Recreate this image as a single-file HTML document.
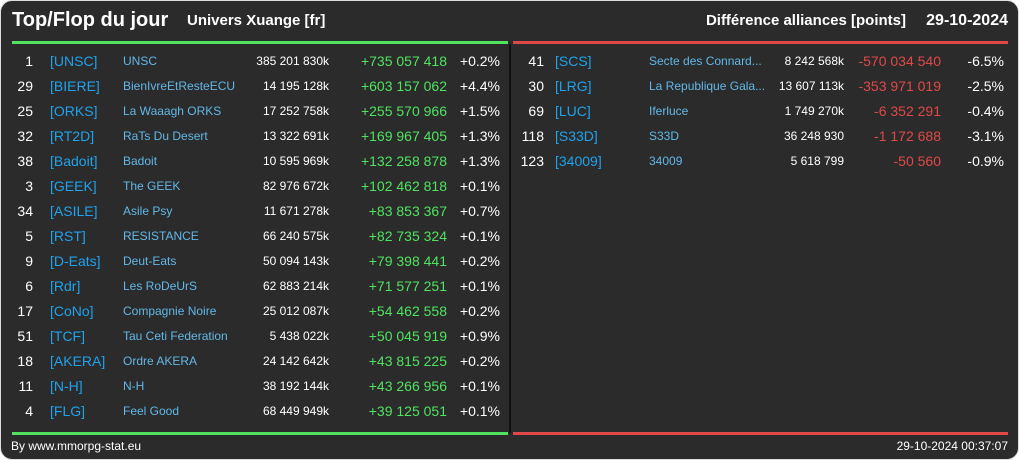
<!DOCTYPE html>
<html><head><meta charset="utf-8"><style>
body{margin:0;width:1019px;height:460px;background:#fff;overflow:hidden;font-family:"Liberation Sans",sans-serif}
#card{position:absolute;left:0;top:0;width:1017px;height:458px;background:#2b2b2b;border:1px solid #ddd;border-radius:12px 12px 12px 12px}
.t{position:absolute;white-space:nowrap;line-height:1}
</style></head><body>
<div id="card">
<div class="t" style="left:11px;top:9px;font-size:20px;font-weight:bold;color:#fff">Top/Flop du jour</div>
<div class="t" style="left:186px;top:12px;font-size:15px;font-weight:bold;color:#fff">Univers Xuange [fr]</div>
<div class="t" style="right:112px;top:12px;font-size:15px;font-weight:bold;color:#fff">Différence alliances [points]</div>
<div class="t" style="right:10px;top:12px;font-size:16px;font-weight:bold;color:#fff">29-10-2024</div>
<div style="position:absolute;left:11px;top:40px;width:496px;height:3px;background:#4fe35f"></div>
<div style="position:absolute;left:512px;top:40px;width:495px;height:3px;background:#e04848"></div>
<div style="position:absolute;left:508px;top:43px;width:2px;height:389px;background:#111"></div>
<div style="position:absolute;left:11px;top:431px;width:496px;height:3px;background:#4fe35f"></div>
<div style="position:absolute;left:512px;top:431px;width:495px;height:3px;background:#e04848"></div>
<div class="t" style="left:10px;top:439px;font-size:12px;color:#fff">By www.mmorpg-stat.eu</div>
<div class="t" style="right:10px;top:439px;font-size:12px;color:#fff">29-10-2024 00:37:07</div>
</div>
<script>
const topRanks=[1,29,25,32,38,3,34,5,9,6,17,51,18,11,4];
const topTags=["[UNSC]","[BIERE]","[ORKS]","[RT2D]","[Badoit]","[GEEK]","[ASILE]","[RST]","[D-Eats]","[Rdr]","[CoNo]","[TCF]","[AKERA]","[N-H]","[FLG]"];
const topNames=["UNSC","BienIvreEtResteECU","La Waaagh ORKS","RaTs Du Desert","Badoit","The GEEK","Asile Psy","RESISTANCE","Deut-Eats","Les RoDeUrS","Compagnie Noire","Tau Ceti Federation","Ordre AKERA","N-H","Feel Good"];
const topPoints=["385 201 830k","14 195 128k","17 252 758k","13 322 691k","10 595 969k","82 976 672k","11 671 278k","66 240 575k","50 094 143k","62 883 214k","25 012 087k","5 438 022k","24 142 642k","38 192 144k","68 449 949k"];
const topDiffs=["+735 057 418","+603 157 062","+255 570 966","+169 967 405","+132 258 878","+102 462 818","+83 853 367","+82 735 324","+79 398 441","+71 577 251","+54 462 558","+50 045 919","+43 815 225","+43 266 956","+39 125 051"];
const topPcts=["+0.2%","+4.4%","+1.5%","+1.3%","+1.3%","+0.1%","+0.7%","+0.1%","+0.2%","+0.1%","+0.2%","+0.9%","+0.2%","+0.1%","+0.1%"];
const flopRanks=[41,30,69,118,123];
const flopTags=["[SCS]","[LRG]","[LUC]","[S33D]","[34009]"];
const flopNames=["Secte des Connard...","La Republique Gala...","Iferluce","S33D","34009"];
const flopPoints=["8 242 568k","13 607 113k","1 749 270k","36 248 930","5 618 799"];
const flopDiffs=["-570 034 540","-353 971 019","-6 352 291","-1 172 688","-50 560"];
const flopPcts=["-6.5%","-2.5%","-0.4%","-3.1%","-0.9%"];
const card=document.getElementById('card');
function txt(x,y,s,size,color,right,name,inter){
  const d=document.createElement('div');
  d.className='t';
  d.textContent=s;
  d.style.top=(y-size*0.5)+'px';
  d.style.fontSize=size+'px';
  d.style.color=color;
  if(right){d.style.right=(1017-x)+'px';}else{d.style.left=x+'px';}
  
  
  card.appendChild(d);
}
function rows(ranks,tags,names,points,diffs,pcts,c,dc){
  for(let i=0;i<ranks.length;i++){
    const y=60+i*25;
    txt(c[0],y,String(ranks[i]),14,'#fff',true,'rank',false);
    txt(c[1],y,tags[i],14,'#1fa3ec',false,'alliance-tag',true);
    txt(c[2],y,names[i],12,'#62b8e8',false,'alliance-name',true);
    txt(c[3],y,points[i],12,'#fff',true,'alliance-points',false);
    txt(c[4],y,diffs[i],14,dc,true,'points-diff',false);
    txt(c[5],y,pcts[i],14,'#fff',true,'percent-diff',false);
  }
}
rows(topRanks,topTags,topNames,topPoints,topDiffs,topPcts,[32,49,122,328,446,499],'#4fe35f');
rows(flopRanks,flopTags,flopNames,flopPoints,flopDiffs,flopPcts,[543,554,648,843,940,1003],'#e04848');
</script>
</body></html>
